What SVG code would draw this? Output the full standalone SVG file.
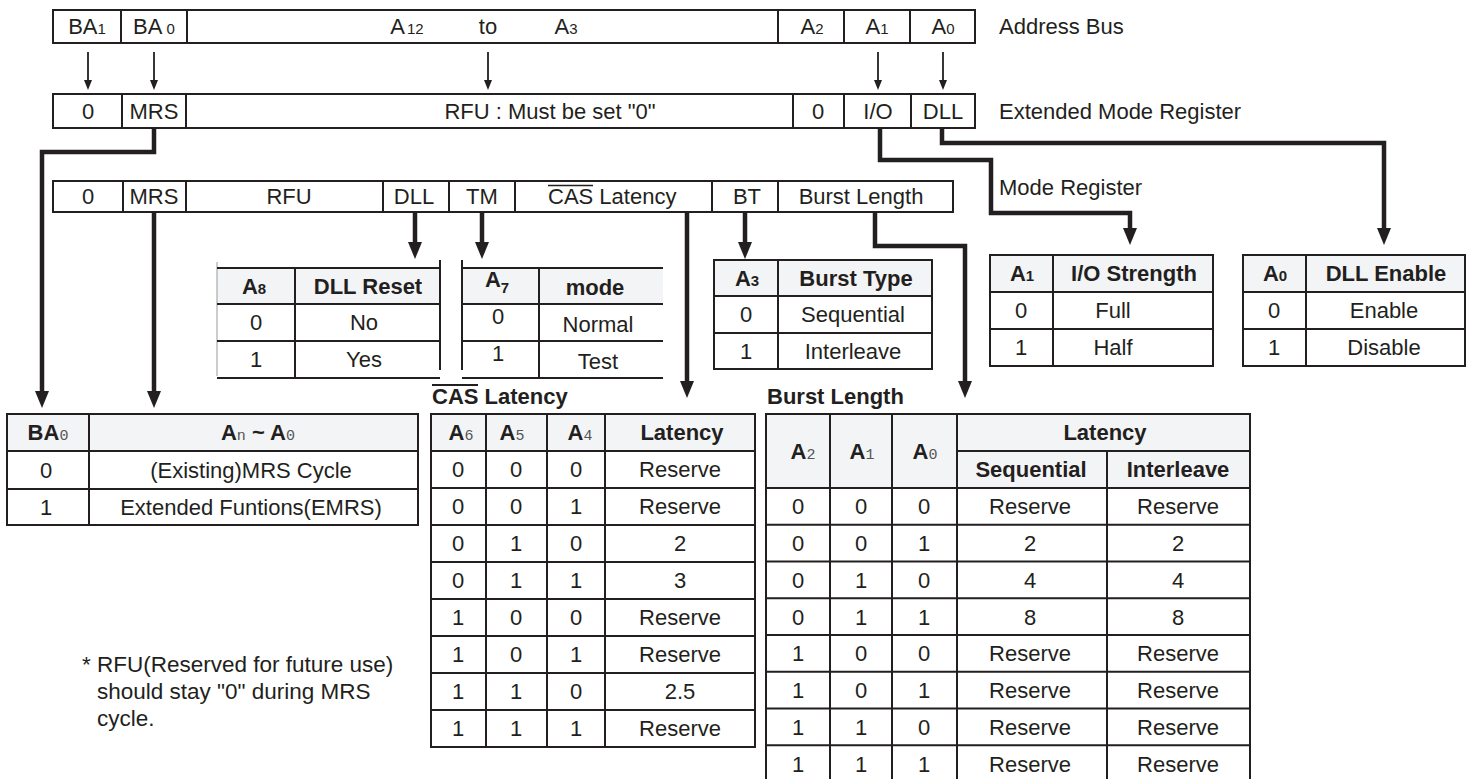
<svg xmlns="http://www.w3.org/2000/svg" width="1482" height="779" viewBox="0 0 1482 779">
<style>
.ln{fill:none;stroke:#231f20;stroke-width:2}
.cn{fill:none;stroke:#231f20;stroke-width:4.5;stroke-linejoin:miter}
.th{fill:none;stroke:#231f20;stroke-width:1.8}
.hd{fill:#f3f4f6}
text{font-family:"Liberation Sans",Arial,sans-serif;font-size:22px;fill:#231f20;text-anchor:middle}
.l{text-anchor:start}
.b{font-weight:bold}
.s{font-size:15px}
.m{font-family:"Liberation Mono","Courier New",monospace;font-size:15px;font-weight:normal;fill:#555}
</style>
<defs>
<marker id="ak" viewBox="0 0 17 14" refX="6" refY="7" markerWidth="17" markerHeight="14" markerUnits="userSpaceOnUse" orient="auto"><path d="M0,0L17,7L0,14z" fill="#231f20"/></marker>
<marker id="at" viewBox="0 0 10 8" refX="3" refY="4" markerWidth="10" markerHeight="8" markerUnits="userSpaceOnUse" orient="auto"><path d="M0,0L10,4L0,8z" fill="#231f20"/></marker>
</defs>
<rect width="1482" height="779" fill="#fff"/>

<g id="address-bus">
<rect class="ln" x="53" y="10" width="922" height="33"/>
<path class="ln" d="M121,10V43M187,10V43M778,10V43M844,10V43M910,10V43"/>
<text x="87" y="34">BA<tspan class="s">1</tspan></text>
<text x="154" y="34">BA<tspan class="s"> 0</tspan></text>
<text x="407" y="34">A<tspan class="s" dx="2">12</tspan></text>
<text x="488" y="34">to</text>
<text x="566" y="34">A<tspan class="s">3</tspan></text>
<text x="812" y="34">A<tspan class="s">2</tspan></text>
<text x="877" y="34">A<tspan class="s">1</tspan></text>
<text x="943" y="34">A<tspan class="s">0</tspan></text>
<text class="l" x="999" y="34">Address Bus</text>
</g>

<g id="extended-mode-register">
<rect class="ln" x="53" y="94" width="922" height="34"/>
<path class="ln" d="M122,94V128M186,94V128M793,94V128M844,94V128M911,94V128"/>
<text x="88" y="119">0</text>
<text x="154" y="119">MRS</text>
<text x="550" y="119">RFU : Must be set "0"</text>
<text x="818" y="119">0</text>
<text x="878" y="119">I/O</text>
<text x="943" y="119">DLL</text>
<text class="l" x="999" y="119">Extended Mode Register</text>
</g>

<g id="mode-register">
<rect class="ln" x="53" y="181" width="900" height="31"/>
<path class="ln" d="M123,181V212M186,181V212M383,181V212M449,181V212M515,181V212M712,181V212M778,181V212"/>
<text x="88" y="204">0</text>
<text x="154" y="204">MRS</text>
<text x="289" y="204">RFU</text>
<text x="414" y="204">DLL</text>
<text x="482" y="204">TM</text>
<text class="l" x="548" y="204">CAS Latency</text>
<path d="M548,185.5H593" stroke="#231f20" stroke-width="1.6"/>
<text x="747" y="204">BT</text>
<text x="861" y="204">Burst Length</text>
<text class="l" x="999" y="195">Mode Register</text>
</g>

<g id="connectors">
<path class="th" marker-end="url(#at)" d="M88,52V83"/>
<path class="th" marker-end="url(#at)" d="M154,52V83"/>
<path class="th" marker-end="url(#at)" d="M488,52V83"/>
<path class="th" marker-end="url(#at)" d="M878,52V83"/>
<path class="th" marker-end="url(#at)" d="M943,52V83"/>
<path class="cn" marker-end="url(#ak)" d="M154,128V152H42V397"/>
<path class="cn" marker-end="url(#ak)" d="M880,128V160H991V213H1130V234"/>
<path class="cn" marker-end="url(#ak)" d="M942,128V143H1384V234"/>
<path class="cn" marker-end="url(#ak)" d="M154,212V397"/>
<path class="cn" marker-end="url(#ak)" d="M415,212V248"/>
<path class="cn" marker-end="url(#ak)" d="M482,212V248"/>
<path class="cn" marker-end="url(#ak)" d="M687,212V387"/>
<path class="cn" marker-end="url(#ak)" d="M745,212V248"/>
<path class="cn" marker-end="url(#ak)" d="M875,212V246H965V387"/>
</g>

<g id="table-dll-reset">
<rect class="hd" x="217" y="268" width="223" height="36"/>
<path d="M217,262V376" stroke="#9a9a9a" stroke-width="1"/>
<path class="ln" d="M217,268H440M440,260V370M217,304H440M217,341H440M217,378H440M295,268V378"/>
<text class="b" x="254" y="294">A<tspan class="s">8</tspan></text>
<text class="b" x="368" y="294">DLL Reset</text>
<text x="256" y="330">0</text><text x="364" y="330">No</text>
<text x="256" y="367">1</text><text x="364" y="367">Yes</text>
</g>

<g id="table-tm">
<rect class="hd" x="462" y="268" width="201" height="36"/>
<path class="ln" d="M462,260V370M462,268H663M462,304H663M462,341H663M462,378H663M539,268V378"/>
<text class="b" x="497" y="287">A<tspan class="s" dy="6">7</tspan></text>
<text class="b" x="595" y="295">mode</text>
<text x="498" y="324">0</text><text x="598" y="332">Normal</text>
<text x="498" y="361">1</text><text x="598" y="369">Test</text>
</g>

<g id="table-burst-type">
<rect class="hd" x="714" y="260" width="218" height="36"/>
<rect class="ln" x="714" y="260" width="218" height="109"/>
<path class="ln" d="M714,296H932M714,333H932M778,260V369"/>
<text class="b" x="747" y="286">A<tspan class="s">3</tspan></text>
<text class="b" x="856" y="286">Burst Type</text>
<text x="746" y="322">0</text><text x="853" y="322">Sequential</text>
<text x="746" y="359">1</text><text x="853" y="359">Interleave</text>
</g>

<g id="table-io-strength">
<rect class="hd" x="990" y="255" width="223" height="37"/>
<rect class="ln" x="990" y="255" width="223" height="111"/>
<path class="ln" d="M990,292H1213M990,329H1213M1053,255V366"/>
<text class="b" x="1022" y="281">A<tspan class="s">1</tspan></text>
<text class="b" x="1134" y="281">I/O Strength</text>
<text x="1021" y="318">0</text><text x="1113" y="318">Full</text>
<text x="1021" y="355">1</text><text x="1113" y="355">Half</text>
</g>

<g id="table-dll-enable">
<rect class="hd" x="1243" y="255" width="222" height="37"/>
<rect class="ln" x="1243" y="255" width="222" height="111"/>
<path class="ln" d="M1243,292H1465M1243,329H1465M1306,255V366"/>
<text class="b" x="1275" y="281">A<tspan class="s">0</tspan></text>
<text class="b" x="1386" y="281">DLL Enable</text>
<text x="1274" y="318">0</text><text x="1384" y="318">Enable</text>
<text x="1274" y="355">1</text><text x="1384" y="355">Disable</text>
</g>

<g id="table-emrs">
<rect class="hd" x="7" y="414" width="411" height="37"/>
<rect class="ln" x="7" y="414" width="411" height="111"/>
<path class="ln" d="M7,451H418M7,489H418M89,414V525"/>
<text class="b" x="48" y="440">BA<tspan class="m">0</tspan></text>
<text class="b" x="258" y="440">A<tspan class="m">n</tspan> ~ A<tspan class="m">0</tspan></text>
<text x="46" y="478">0</text><text x="251" y="478">(Existing)MRS Cycle</text>
<text x="46" y="515">1</text><text x="251" y="515">Extended Funtions(EMRS)</text>
</g>

<g id="table-cas-latency">
<text class="b l" x="432" y="404">CAS Latency</text>
<path d="M432,385H478" stroke="#231f20" stroke-width="2"/>
<rect class="hd" x="431" y="414" width="324" height="37"/>
<rect class="ln" x="431" y="414" width="324" height="333"/>
<path class="ln" d="M431,451H755M431,488H755M431,525H755M431,562H755M431,599H755M431,636H755M431,673H755M431,710H755M486,414V747M547,414V747M605,414V747"/>
<text class="b" x="461" y="440">A<tspan class="m">6</tspan></text>
<text class="b" x="512" y="440">A<tspan class="m">5</tspan></text>
<text class="b" x="580" y="440">A<tspan class="m">4</tspan></text>
<text class="b" x="682" y="440">Latency</text>
<g>
<text x="458" y="477">0</text><text x="516" y="477">0</text><text x="576" y="477">0</text><text x="680" y="477">Reserve</text>
<text x="458" y="514">0</text><text x="516" y="514">0</text><text x="576" y="514">1</text><text x="680" y="514">Reserve</text>
<text x="458" y="551">0</text><text x="516" y="551">1</text><text x="576" y="551">0</text><text x="680" y="551">2</text>
<text x="458" y="588">0</text><text x="516" y="588">1</text><text x="576" y="588">1</text><text x="680" y="588">3</text>
<text x="458" y="625">1</text><text x="516" y="625">0</text><text x="576" y="625">0</text><text x="680" y="625">Reserve</text>
<text x="458" y="662">1</text><text x="516" y="662">0</text><text x="576" y="662">1</text><text x="680" y="662">Reserve</text>
<text x="458" y="699">1</text><text x="516" y="699">1</text><text x="576" y="699">0</text><text x="680" y="699">2.5</text>
<text x="458" y="736">1</text><text x="516" y="736">1</text><text x="576" y="736">1</text><text x="680" y="736">Reserve</text>
</g>
</g>

<g id="table-burst-length">
<text class="b l" x="767" y="404">Burst Length</text>
<rect class="hd" x="766" y="414" width="484" height="74"/>
<rect class="ln" x="766" y="414" width="484" height="368"/>
<path class="ln" d="M957,451H1250M766,488H1250M766,524.75H1250M766,561.5H1250M766,598.25H1250M766,635H1250M766,671.75H1250M766,708.5H1250M766,745.25H1250M830,414V782M892,414V782M957,414V782M1107,451V782"/>
<text class="b" x="803" y="459">A<tspan class="m">2</tspan></text>
<text class="b" x="862" y="459">A<tspan class="m">1</tspan></text>
<text class="b" x="925" y="459">A<tspan class="m">0</tspan></text>
<text class="b" x="1105" y="440">Latency</text>
<text class="b" x="1031" y="477">Sequential</text>
<text class="b" x="1178" y="477">Interleave</text>
<g>
<text x="798" y="514">0</text><text x="861" y="514">0</text><text x="924" y="514">0</text><text x="1030" y="514">Reserve</text><text x="1178" y="514">Reserve</text>
<text x="798" y="551">0</text><text x="861" y="551">0</text><text x="924" y="551">1</text><text x="1030" y="551">2</text><text x="1178" y="551">2</text>
<text x="798" y="588">0</text><text x="861" y="588">1</text><text x="924" y="588">0</text><text x="1030" y="588">4</text><text x="1178" y="588">4</text>
<text x="798" y="625">0</text><text x="861" y="625">1</text><text x="924" y="625">1</text><text x="1030" y="625">8</text><text x="1178" y="625">8</text>
<text x="798" y="661">1</text><text x="861" y="661">0</text><text x="924" y="661">0</text><text x="1030" y="661">Reserve</text><text x="1178" y="661">Reserve</text>
<text x="798" y="698">1</text><text x="861" y="698">0</text><text x="924" y="698">1</text><text x="1030" y="698">Reserve</text><text x="1178" y="698">Reserve</text>
<text x="798" y="735">1</text><text x="861" y="735">1</text><text x="924" y="735">0</text><text x="1030" y="735">Reserve</text><text x="1178" y="735">Reserve</text>
<text x="798" y="772">1</text><text x="861" y="772">1</text><text x="924" y="772">1</text><text x="1030" y="772">Reserve</text><text x="1178" y="772">Reserve</text>
</g>
</g>

<g id="note">
<text class="l" x="82" y="672" style="font-size:22.5px">* RFU(Reserved for future use)</text>
<text class="l" x="97" y="699" style="font-size:22.5px">should stay "0" during MRS</text>
<text class="l" x="97" y="726" style="font-size:22.5px">cycle.</text>
</g>
</svg>
